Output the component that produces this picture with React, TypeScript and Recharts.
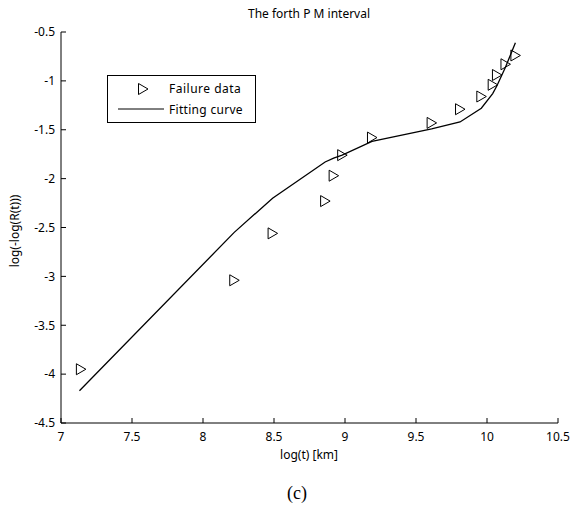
import { ScatterChart, Scatter, XAxis, YAxis } from "recharts";

// failure data (log t, log(-log R))
const failureLogT = [7.14, 8.22, 8.49, 8.86, 8.92, 8.98, 9.19, 9.61, 9.81, 9.96, 10.04, 10.07, 10.13, 10.2];
const failureY = [-3.95, -3.04, -2.56, -2.23, -1.97, -1.76, -1.58, -1.43, -1.29, -1.16, -1.04, -0.94, -0.83, -0.74];

// fitting curve
const fitLogT = [7.13, 8.22, 8.49, 8.86, 8.92, 8.98, 9.19, 9.61, 9.81, 9.96, 10.04, 10.07, 10.13, 10.2];
const fitY = [-4.17, -2.55, -2.2, -1.83, -1.79, -1.76, -1.62, -1.49, -1.42, -1.28, -1.13, -1.05, -0.86, -0.61];

const xTicks = [7, 7.5, 8, 8.5, 9, 9.5, 10, 10.5];
const yTicks = [-4.5, -4, -3.5, -3, -2.5, -2, -1.5, -1, -0.5];

const FONT = "'Noto Sans', sans-serif";

const failureData = failureLogT.map((x, i) => ({ x, y: failureY[i] }));
const fitData = fitLogT.map((x, i) => ({ x, y: fitY[i] }));

const Triangle = (props: any) => {
  const { cx, cy } = props;
  if (cx == null || cy == null) return <g />;
  return (
    <polygon
      points={`${cx - 4.5},${cy - 5.5} ${cx - 4.5},${cy + 5.5} ${cx + 5},${cy}`}
      fill="none"
      stroke="#000"
      strokeWidth={1}
    />
  );
};

const Empty = () => <g />;

const txt = (left: number, top: number, extra: any = {}) => ({
  position: "absolute" as const,
  left,
  top,
  transform: "translate(-50%, -50%)",
  whiteSpace: "nowrap" as const,
  lineHeight: 1,
  fontFamily: FONT,
  fontSize: 12,
  color: "#000",
  ...extra,
});

export default function App() {
  return (
    <div
      style={{
        position: "absolute",
        left: 0,
        top: 0,
        width: 572,
        height: 508,
        background: "#fff",
      }}
    >
      <ScatterChart
        width={572}
        height={508}
        margin={{ top: 32, right: 14, left: 0, bottom: 0 }}
      >
        <XAxis
          type="number"
          dataKey="x"
          domain={[7, 10.5]}
          ticks={xTicks}
          allowDataOverflow
          height={85}
          tickSize={-5}
          tickMargin={14}
          axisLine={{ stroke: "#000" }}
          tickLine={{ stroke: "#000" }}
          tick={{ fill: "#000", fontSize: 12, fontFamily: FONT }}
        />
        <YAxis
          type="number"
          dataKey="y"
          domain={[-4.5, -0.5]}
          ticks={yTicks}
          allowDataOverflow
          width={61}
          tickSize={-5}
          tickMargin={11}
          axisLine={{ stroke: "#000" }}
          tickLine={{ stroke: "#000" }}
          tick={{ fill: "#000", fontSize: 12, fontFamily: FONT }}
        />
        <Scatter
          name="Fitting curve"
          data={fitData}
          line={{ stroke: "#000", strokeWidth: 1.3 }}
          lineType="joint"
          shape={Empty}
          isAnimationActive={false}
        />
        <Scatter
          name="Failure data"
          data={failureData}
          shape={Triangle}
          isAnimationActive={false}
        />
      </ScatterChart>

      <div style={txt(309, 14)}>The forth P M interval</div>
      <div style={txt(309, 455)}>log(t) [km]</div>
      <div style={txt(15, 231, { transform: "translate(-50%, -50%) rotate(-90deg)" })}>
        log(-log(R(t)))
      </div>
      <div
        style={txt(297, 493, {
          fontFamily: "'Liberation Serif', serif",
          fontSize: 18,
        })}
      >
        (c)
      </div>

      {/* legend */}
      <div
        style={{
          position: "absolute",
          left: 107,
          top: 75,
          width: 147,
          height: 46,
          border: "1px solid #000",
          background: "#fff",
        }}
      >
        <svg width={60} height={46} style={{ position: "absolute", left: 0, top: 0 }}>
          <polygon points="30.5,7.5 30.5,18.5 40,13" fill="none" stroke="#000" strokeWidth={1} />
          <line x1={10} y1={33} x2={56} y2={33} stroke="#000" strokeWidth={1} />
        </svg>
        <div style={{ ...txt(0, 13), transform: "translate(0, -50%)", left: 61, letterSpacing: 0.5 }}>
          Failure data
        </div>
        <div style={{ ...txt(0, 34), transform: "translate(0, -50%)", left: 61, letterSpacing: 0.3 }}>
          Fitting curve
        </div>
      </div>
    </div>
  );
}
